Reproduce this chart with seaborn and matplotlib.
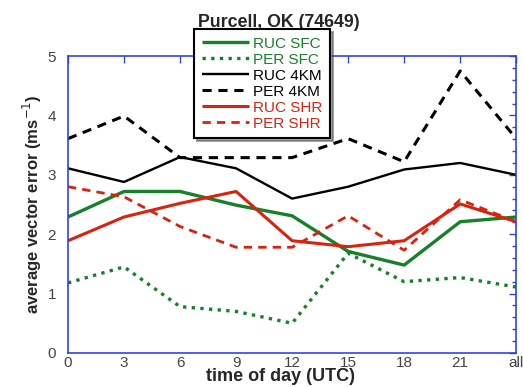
import matplotlib
matplotlib.use("Agg")
import matplotlib.pyplot as plt
import seaborn as sns
import pandas as pd
import numpy as np
from matplotlib.ticker import MultipleLocator

tick_labels = ["0", "3", "6", "9", "12", "15", "18", "21", "all"]
ruc_sfc = [2.29, 2.72, 2.72, 2.49, 2.31, 1.71, 1.48, 2.21, 2.29]
per_sfc = [1.18, 1.45, 0.78, 0.70, 0.50, 1.68, 1.20, 1.27, 1.11]
ruc_4km = [3.11, 2.88, 3.30, 3.11, 2.60, 2.80, 3.09, 3.20, 3.00]
per_4km = [3.61, 3.99, 3.29, 3.29, 3.29, 3.61, 3.22, 4.75, 3.61]
ruc_shr = [1.89, 2.29, 2.52, 2.72, 1.89, 1.79, 1.89, 2.51, 2.21]
per_shr = [2.80, 2.63, 2.13, 1.78, 1.78, 2.31, 1.73, 2.58, 2.21]

series_names = ["RUC SFC", "PER SFC", "RUC 4KM", "PER 4KM", "RUC SHR", "PER SHR"]
series_vals = [ruc_sfc, per_sfc, ruc_4km, per_4km, ruc_shr, per_shr]

GREEN = "#17802a"
RED = "#d8230e"
BLACK = "#000000"
styles = {
    "RUC SFC": dict(color=GREEN, ls="-", lw=2.4),
    "PER SFC": dict(color=GREEN, ls=(0, (1, 1.6)), lw=2.4),
    "RUC 4KM": dict(color=BLACK, ls="-", lw=1.7),
    "PER 4KM": dict(color=BLACK, ls=(0, (3, 2.2)), lw=2.2),
    "RUC SHR": dict(color=RED, ls="-", lw=2.2),
    "PER SHR": dict(color=RED, ls=(0, (3, 2.2)), lw=2.0),
}

sns.set_style("white")
plt.rcParams['font.family'] = ['Liberation Sans', 'DejaVu Sans']

fig = plt.figure(figsize=(5.23, 3.87), dpi=100)
ax = fig.add_axes([0.130, 0.088, 0.857, 0.767])

x = np.arange(len(tick_labels))
for name, vals in zip(series_names, series_vals):
    df = pd.DataFrame({"x": x, "y": vals})
    st = styles[name]
    sns.lineplot(data=df, x="x", y="y", ax=ax, color=st["color"], linewidth=st["lw"],
                 linestyle=st["ls"], label=name, solid_capstyle="butt", dash_capstyle="butt")

ax.set_xlim(0, 8)
ax.set_ylim(0, 5)
ax.set_xticks(x)
ax.set_xticklabels(tick_labels)
ax.yaxis.set_major_locator(MultipleLocator(1))
ax.yaxis.set_minor_locator(MultipleLocator(0.2))
SPINE = "#3344dd"
for s in ax.spines.values():
    s.set_color(SPINE)
    s.set_linewidth(1.2)
    s.set_visible(True)
ax.tick_params(axis="both", which="both", direction="in", color=SPINE,
               top=True, right=True, labelsize=11, labelcolor="#444444")
ax.tick_params(axis="both", which="major", length=5, width=1)
ax.tick_params(axis="y", which="minor", length=3, width=1)
ax.tick_params(axis="y", which="major", pad=8.5)
ax.tick_params(axis="x", which="major", pad=2)

ax.set_xlabel("time of day (UTC)", fontsize=13, fontweight="bold")
ax.xaxis.set_label_coords(0.475, -0.052)
ax.set_ylabel("average vector error (ms$^{-1}$)", fontsize=12, fontweight="bold")
ax.yaxis.set_label_coords(-0.054, 0.5)
ax.set_title("Purcell, OK (74649)", fontsize=12.8, fontweight="bold", pad=21, x=0.471)

leg = ax.legend(loc="upper left", bbox_to_anchor=(0.371, 0.925), bbox_transform=fig.transFigure,
                frameon=True, fancybox=False, shadow=True, edgecolor="black", fontsize=11,
                handlelength=3.1, handletextpad=0.25, labelspacing=0.13, borderpad=0.5,
                borderaxespad=0)
leg.get_frame().set_linewidth(1.5)
leg.get_frame().set_alpha(1)
for text, name in zip(leg.get_texts(), series_names):
    text.set_color(styles[name]["color"])

fig.savefig("out.png", dpi=100)
